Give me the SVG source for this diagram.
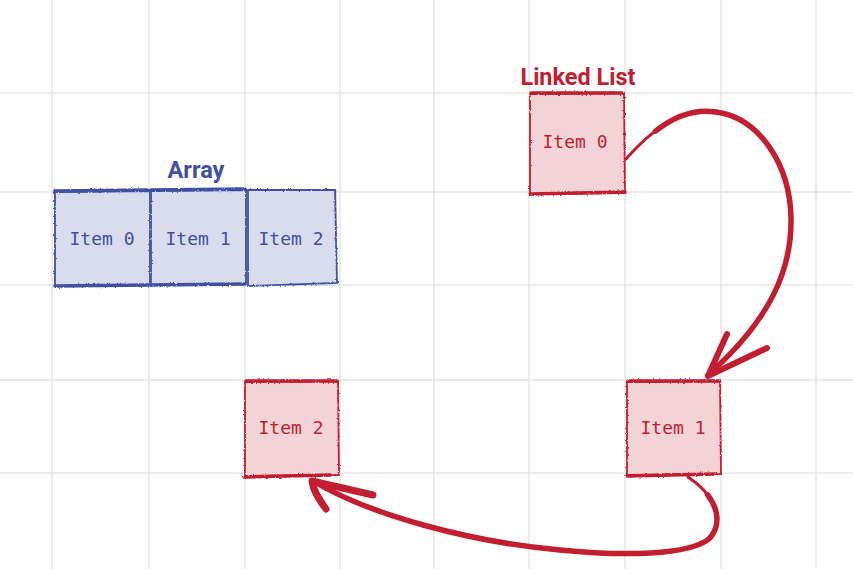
<svg xmlns="http://www.w3.org/2000/svg" width="853" height="569" viewBox="0 0 853 569">
<defs>
<style>
.grid line{stroke:#e6e6e6;stroke-width:1.5}
.lbl{font-family:"DejaVu Sans Mono","Liberation Mono",monospace;font-size:18px;text-anchor:middle;dominant-baseline:central}
.title{font-family:Roboto,"Liberation Sans",sans-serif;font-weight:bold;font-size:23.5px;text-anchor:middle}
.blue rect{fill:#d9dcec}
.blue path{fill:none;stroke:#3f50a3;stroke-linecap:round}
.blue text{fill:#3f50a3}
.red rect{fill:#f2d3d6}
.red path{fill:none;stroke:#c21e30;stroke-linecap:round}
.red text{fill:#c21e30}
.conn path{fill:none;stroke:#c21e30;stroke-linecap:round;stroke-linejoin:round}
</style>
<filter id="rough" x="-5%" y="-5%" width="110%" height="110%">
<feTurbulence type="fractalNoise" baseFrequency="0.6" numOctaves="2" seed="3"/>
<feDisplacementMap in="SourceGraphic" scale="2.5" xChannelSelector="R" yChannelSelector="G"/>
</filter>
</defs>
<rect width="853" height="569" fill="#ffffff"/>
<g class="grid">
<line x1="52" y1="0" x2="52" y2="569"/>
<line x1="149" y1="0" x2="149" y2="569"/>
<line x1="245" y1="0" x2="245" y2="569"/>
<line x1="340" y1="0" x2="340" y2="569"/>
<line x1="434" y1="0" x2="434" y2="569"/>
<line x1="529" y1="0" x2="529" y2="569"/>
<line x1="625" y1="0" x2="625" y2="569"/>
<line x1="721" y1="0" x2="721" y2="569"/>
<line x1="816" y1="0" x2="816" y2="569"/>
<line x1="0" y1="93" x2="853" y2="93"/>
<line x1="0" y1="192" x2="853" y2="192"/>
<line x1="0" y1="285" x2="853" y2="285"/>
<line x1="0" y1="380" x2="853" y2="380"/>
<line x1="0" y1="473" x2="853" y2="473"/>
</g>
<text class="title" x="196" y="178" fill="#3f50a3">Array</text>
<text class="title" x="578" y="85" fill="#c21e30">Linked List</text>
<g id="arr0" class="blue">
<rect x="54" y="191" width="96" height="95"/>
<path filter="url(#rough)" stroke-width="1.8" d="M55,192 L150,191 L150,285 L55,286 Z"/>
<path filter="url(#rough)" stroke-width="3.5" d="M55,191 L148,190 M55,286 L149,285"/>
<text class="lbl" x="102" y="238">Item 0</text>
</g>
<g id="arr1" class="blue">
<rect x="150" y="191" width="97" height="94"/>
<path filter="url(#rough)" stroke-width="1.8" d="M151,191 L246,190 L246,284 L151,285 Z"/>
<path filter="url(#rough)" stroke-width="3.5" d="M151,190 L245,189 M151,285 L245,284"/>
<text class="lbl" x="198" y="238">Item 1</text>
</g>
<g id="arr2" class="blue">
<rect x="248" y="189" width="89" height="97"/>
<path filter="url(#rough)" stroke-width="1.8" d="M248,190 L335,190 L337,283 L248,286 Z"/>
<path filter="url(#rough)" stroke-width="3.5" d="M250,189 L335,189"/>
<text class="lbl" x="291" y="238">Item 2</text>
</g>
<g id="ll0" class="red">
<rect x="529" y="93" width="96" height="100"/>
<path filter="url(#rough)" stroke-width="1.8" d="M530,94 L624,93 L625,193 L530,194 Z"/>
<path filter="url(#rough)" stroke-width="3.5" d="M531,93 L623,93 M530,194 L625,192"/>
<text class="lbl" x="575" y="141">Item 0</text>
</g>
<g id="ll1" class="red">
<rect x="626" y="381" width="95" height="94"/>
<path filter="url(#rough)" stroke-width="1.8" d="M627,382 L720,381 L721,474 L627,475 Z"/>
<path filter="url(#rough)" stroke-width="3.5" d="M628,381 L719,381 M627,476 L715,474"/>
<text class="lbl" x="673" y="427">Item 1</text>
</g>
<g id="ll2" class="red">
<rect x="244" y="381" width="95" height="95"/>
<path filter="url(#rough)" stroke-width="1.8" d="M245,382 L338,381 L339,475 L245,476 Z"/>
<path filter="url(#rough)" stroke-width="3.5" d="M246,381 L337,381 M244,477 L330,475"/>
<text class="lbl" x="291" y="427">Item 2</text>
</g>
<g id="connectors" class="conn">
<path stroke-width="3" d="M626,159 C660,120 690,108 716,112"/>
<path stroke-width="5.5" d="M655.5,131.1 C677.6,113.6 697.8,109.2 716,112 C760,118 790,165 791,218 C792,270 770,320 708,375"/>
<path stroke-width="6" d="M727,334 L708,376 L767,348"/>
<path stroke-width="3" d="M688,477 C715,495 725,520 710,538"/>
<path stroke-width="5.5" d="M707.5,494.7 C718.75,509.4 720.5,525.4 710,538 C690,556 620,556 560,550 C470,542 370,515 313,481"/>
<path stroke-width="7" d="M326,509 C318,498 313,490 312,481 L373,495"/>
</g>
</svg>
